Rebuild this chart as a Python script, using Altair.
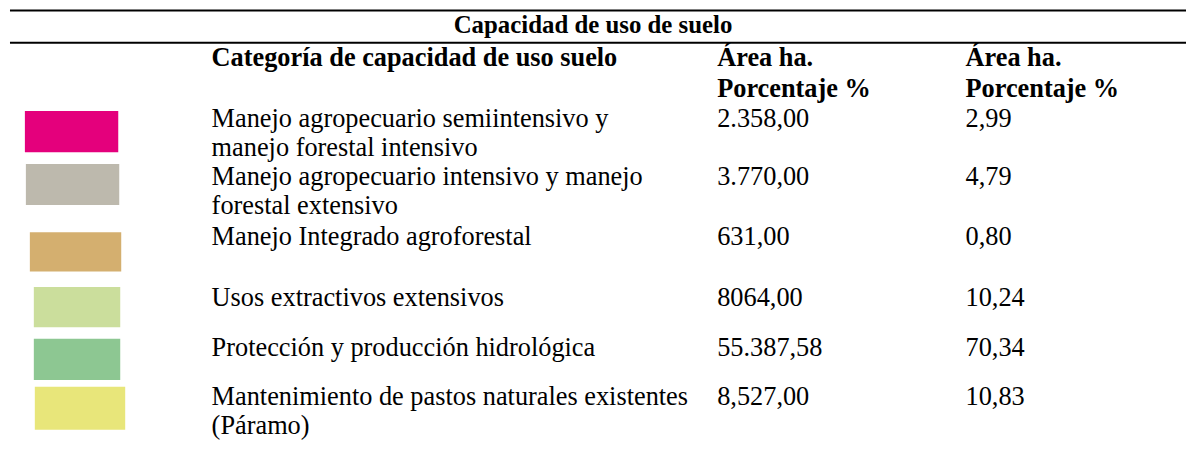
import altair as alt
import pandas as pd

# ---------------- data ----------------
title_text = "Capacidad de uso de suelo"
header_category = "Categoría de capacidad de uso suelo"
header_value = ["Área ha.", "Porcentaje %"]

categories = [
    ["Manejo agropecuario semiintensivo y", "manejo forestal intensivo"],
    ["Manejo agropecuario intensivo y manejo", "forestal extensivo"],
    ["Manejo Integrado agroforestal"],
    ["Usos extractivos extensivos"],
    ["Protección y producción hidrológica"],
    ["Mantenimiento de pastos naturales existentes", "(Páramo)"],
]
areas = ["2.358,00", "3.770,00", "631,00", "8064,00", "55.387,58", "8,527,00"]
percents = ["2,99", "4,79", "0,80", "10,24", "70,34", "10,83"]
colors = ["#E4007C", "#BDB9AD", "#D4AF6F", "#CBDE9C", "#8DC792", "#E8E67A"]

# ---------------- layout (reference pixel coordinates) ----------------
W, H = 1186, 433
OX = 8
FONT = "Liberation Serif"
SIZE = 26.5
LINE_H = 29.5
col_x = [213, 722, 972]
header_base = [65, 97]
row_base = [127, 187, 248, 310, 362, 412]
sw_x0 = [25, 26, 30, 34, 34, 35]
sw_x1 = [119, 120, 122, 121, 121, 126]
sw_y0 = [111, 165, 235, 291, 344, 393]
sw_y1 = [153, 207, 275, 332, 386, 437]
rule_y = [8, 41]

xs = alt.Scale(domain=[OX, OX + W], range=[0, W], nice=False, zero=False)
# vertical: reference rows 7..447 squeezed into the drawable area
ys = alt.Scale(domain=[7, 447], range=[0, H], nice=False, zero=False)

# regular text
reg_rows = []
for i, lines in enumerate(categories):
    for j, ln in enumerate(lines):
        reg_rows.append({"x": col_x[0], "y": row_base[i] + j * LINE_H, "t": ln})
    reg_rows.append({"x": col_x[1], "y": row_base[i], "t": areas[i]})
    reg_rows.append({"x": col_x[2], "y": row_base[i], "t": percents[i]})
reg_df = pd.DataFrame(reg_rows)

# bold header text
bold_rows = [{"x": col_x[0], "y": header_base[0], "t": header_category}]
for cx in col_x[1:]:
    for k, ln in enumerate(header_value):
        bold_rows.append({"x": cx, "y": header_base[k], "t": ln})
bold_df = pd.DataFrame(bold_rows)

title_df = pd.DataFrame([{"x": 597, "y": 31, "t": title_text}])

sw_df = pd.DataFrame({"x": sw_x0, "x2": sw_x1, "y": sw_y0, "y2": sw_y1, "c": colors})
rule_df = pd.DataFrame({"x": [10] * len(rule_y), "x2": [OX + W] * len(rule_y), "y": rule_y})

text_reg = alt.Chart(reg_df).mark_text(
    align="left", baseline="alphabetic", font=FONT, fontSize=SIZE, color="#000000"
).encode(x=alt.X("x:Q", scale=xs, axis=None), y=alt.Y("y:Q", scale=ys, axis=None), text="t:N")

text_bold = alt.Chart(bold_df).mark_text(
    align="left", baseline="alphabetic", font=FONT, fontSize=SIZE, fontWeight="bold", color="#000000"
).encode(x=alt.X("x:Q", scale=xs, axis=None), y=alt.Y("y:Q", scale=ys, axis=None), text="t:N")

text_title = alt.Chart(title_df).mark_text(
    align="center", baseline="alphabetic", font=FONT, fontSize=25, fontWeight="bold", color="#000000"
).encode(x=alt.X("x:Q", scale=xs, axis=None), y=alt.Y("y:Q", scale=ys, axis=None), text="t:N")

swatches = alt.Chart(sw_df).mark_rect().encode(
    x=alt.X("x:Q", scale=xs, axis=None), x2="x2:Q",
    y=alt.Y("y:Q", scale=ys, axis=None), y2="y2:Q",
    color=alt.Color("c:N", scale=None, legend=None),
)

rules = alt.Chart(rule_df).mark_rule(color="#000000", strokeWidth=2).encode(
    x=alt.X("x:Q", scale=xs, axis=None), x2="x2:Q", y=alt.Y("y:Q", scale=ys, axis=None)
)

chart = alt.layer(rules, swatches, text_title, text_bold, text_reg).properties(
    width=W, height=H, padding=0, autosize=alt.AutoSizeParams(type="none"), background="white"
).configure_view(stroke=None)

chart.save("out.html", embed_options={"renderer": "svg", "actions": False})
